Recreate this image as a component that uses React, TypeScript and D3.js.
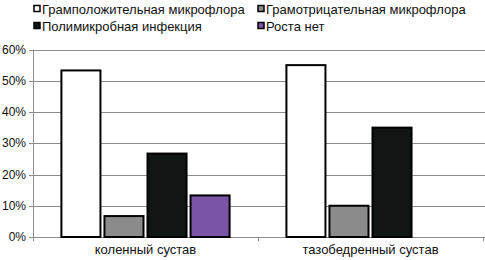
import React from "react";
import * as d3 from "d3";

const categories = ["коленный сустав", "тазобедренный сустав"];
const seriesNames = [
  "Грамположительная микрофлора",
  "Грамотрицательная микрофлора",
  "Полимикробная инфекция",
  "Роста нет",
];
const seriesColors = ["#ffffff", "#8a8b8a", "#111614", "#7b55a5"];
const valuesKnee = [53.3, 6.7, 26.7, 13.3];
const valuesHip = [55, 10, 35, 0];
const yTicks = [0, 10, 20, 30, 40, 50, 60];

const W = 485;
const H = 260;
const left = 33;
const right = 483;
const top = 49.5;
const bottom = 237;

export default function App() {
  const values = [valuesKnee, valuesHip];
  const x0 = d3.scaleBand<string>().domain(categories).range([left, right]).padding(0);
  const x1 = d3
    .scaleBand<string>()
    .domain(seriesNames)
    .range([0, x0.bandwidth()])
    .paddingInner(0.093)
    .paddingOuter(0.66);
  const y = d3.scaleLinear().domain([0, 60]).range([bottom, top]);
  const font = "'Liberation Sans', Arial, sans-serif";
  const legendPos = [
    { x: 33, y: 9 },
    { x: 257, y: 9 },
    { x: 33, y: 26 },
    { x: 257, y: 26 },
  ];
  return (
    <svg
      width={W}
      height={H}
      style={{ position: "absolute", left: 0, top: 0, background: "#fff" }}
      fontFamily={font}
    >
      {/* gridlines */}
      {yTicks.map((t) => (
        <line
          key={"g" + t}
          x1={left - 4}
          x2={right + 2}
          y1={Math.round(y(t)) + 0.5}
          y2={Math.round(y(t)) + 0.5}
          stroke="#8c8c8c"
          strokeWidth={1}
        />
      ))}
      {/* y axis */}
      <line x1={left + 0.5} x2={left + 0.5} y1={y(60)} y2={y(0)} stroke="#8c8c8c" />
      {yTicks.map((t) => (
        <text
          key={"t" + t}
          x={left - 7}
          y={y(t)}
          dy="0.35em"
          textAnchor="end"
          fontSize={12}
          fill="#111"
        >
          {t + "%"}
        </text>
      ))}
      {/* category ticks */}
      {[left, left + x0.bandwidth(), right].map((xx, i) => (
        <line
          key={"c" + i}
          x1={Math.round(xx) + 0.5}
          x2={Math.round(xx) + 0.5}
          y1={y(0)}
          y2={y(0) + 4}
          stroke="#8c8c8c"
        />
      ))}
      {/* bars */}
      {categories.map((c, ci) =>
        seriesNames.map((s, si) => {
          const v = values[ci][si];
          if (v <= 0) return null;
          const bx = (x0(c) as number) + (x1(s) as number);
          return (
            <rect
              key={c + s}
              x={bx}
              y={y(v)}
              width={x1.bandwidth()}
              height={y(0) - y(v)}
              fill={seriesColors[si]}
              stroke="#000"
              strokeWidth={2}
            />
          );
        })
      )}
      {/* category labels */}
      {categories.map((c) => (
        <text
          key={"l" + c}
          x={(x0(c) as number) + x0.bandwidth() / 2}
          y={254}
          textAnchor="middle"
          fontSize={13}
          fill="#111"
        >
          {c}
        </text>
      ))}
      {/* legend */}
      {seriesNames.map((s, i) => (
        <g key={"lg" + s} transform={`translate(${legendPos[i].x},${legendPos[i].y})`}>
          <rect
            x={1}
            y={-3.5}
            width={6}
            height={6}
            fill={seriesColors[i]}
            stroke="#000"
            strokeWidth={1.5}
          />
          <text x={9} y={0} dy="0.35em" fontSize={13} fill="#111">
            {s}
          </text>
        </g>
      ))}
    </svg>
  );
}
